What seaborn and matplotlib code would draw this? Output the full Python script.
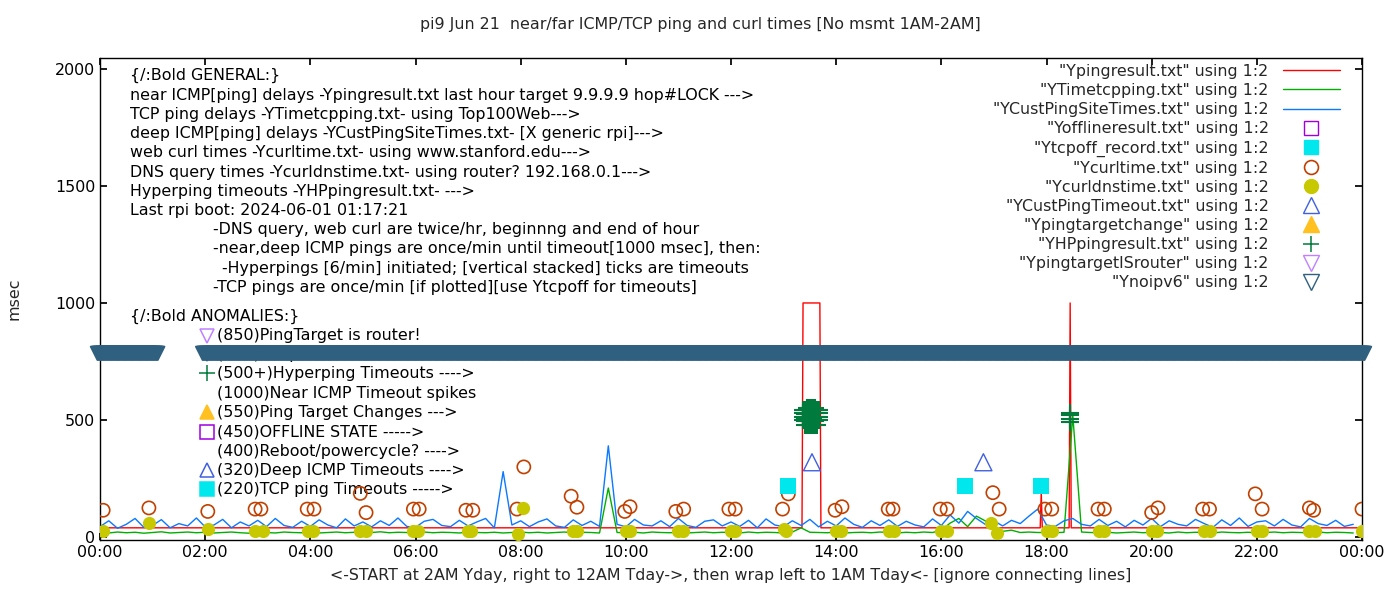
import numpy as np
import pandas as pd
import matplotlib
matplotlib.use("Agg")
import matplotlib.pyplot as plt
import seaborn as sns
from matplotlib.lines import Line2D

# ---- data (hours of day, msec) ----
t10 = np.arange(0, 24, 1 / 6)  # 10-minute samples

cust_ms = [
    45, 70, 38, 55, 80, 42, 50, 75, 40, 58, 48, 82,
    44, 52, 76, 40, 65, 48, 72, 45, 80, 50, 42, 68,
    46, 74, 52, 40, 78, 48, 65, 44, 70, 50, 82, 46,
    42, 68, 76, 50, 45, 72, 48, 65, 80, 40, 280, 52,
    70, 45, 65, 78, 48, 42, 74, 50, 68, 46, 390, 55,
    44, 76, 52, 48, 70, 45, 80, 50, 42, 68, 74, 48,
    65, 46, 72, 40, 78, 52, 45, 70, 50, 76, 44, 68,
    48, 82, 55, 42, 70, 50, 74, 46, 68, 52, 44, 78,
    50, 95, 60, 110, 80, 55, 70, 48, 72, 58, 90, 120,
    52, 46, 70, 80, 55, 48, 76, 50, 68, 44, 72, 52,
    80, 45, 70, 55, 48, 76, 58, 42, 74, 50, 82, 46,
    65, 70, 48, 76, 52, 44, 80, 58, 50, 72, 46, 55,
]
tcp_ms = [
    20, 18, 22, 19, 21, 17, 20, 23, 18, 20, 22, 19,
    21, 18, 20, 22, 19, 17, 21, 20, 18, 22, 20, 19,
    21, 18, 20, 22, 19, 21, 18, 20, 23, 19, 21, 20,
    18, 22, 19, 21, 20, 18, 22, 20, 19, 21, 18, 20,
    22, 19, 21, 18, 20, 22, 19, 21, 20, 18, 210, 20,
    19, 21, 18, 22, 20, 19, 21, 18, 20, 22, 19, 21,
    20, 18, 22, 19, 21, 20, 18, 22, 40, 21, 20, 19,
    22, 18, 20, 21, 19, 22, 20, 18, 21, 19, 22, 20,
    30, 60, 80, 45, 90, 70, 40, 25, 30, 20, 22, 20,
    20, 19, 21, 520, 22, 20, 19, 21, 18, 20, 22, 19,
    21, 20, 18, 22, 19, 21, 20, 18, 22, 20, 19, 21,
    18, 20, 22, 19, 21, 20, 18, 22, 19, 21, 20, 18,
]
ping_x = [0, 13.35, 13.37, 13.69, 13.71, 17.88, 17.9, 17.92, 18.43, 18.45, 18.47, 24]
ping_y = [40, 40, 1000, 1000, 40, 40, 190, 40, 40, 1000, 40, 40]

curl_x = [0.06, 0.93, 2.05, 2.95, 3.06, 3.94, 4.07, 4.95, 5.06, 5.96, 6.07, 6.96, 7.09,
          7.93, 8.06, 8.96, 9.07, 9.98, 10.08, 10.95, 11.1, 11.96, 12.08, 12.98, 13.09,
          13.98, 14.11, 14.99, 15.08, 15.98, 16.11, 16.98, 17.1, 17.97, 18.1, 18.98, 19.1,
          20.0, 20.12, 20.97, 21.1, 21.97, 22.1, 23.0, 23.08, 24.0]
curl_y = [115, 125, 110, 120, 120, 120, 120, 187, 105, 120, 120, 115, 115,
          120, 300, 175, 128, 110, 130, 110, 120, 120, 120, 120, 185,
          115, 130, 120, 120, 120, 120, 190, 120, 120, 120, 120, 120,
          105, 125, 120, 120, 185, 120, 125, 115, 120]
dns_x = [0.05, 0.93, 2.05, 2.95, 3.1, 3.95, 4.05, 4.95, 5.05, 5.95, 6.05, 7.0, 7.05,
         7.95, 8.05, 9.0, 9.08, 10.0, 10.08, 11.0, 11.08, 12.0, 12.08, 13.0, 13.05,
         14.0, 14.1, 15.0, 15.1, 16.0, 16.1, 16.95, 17.05, 18.0, 18.1, 19.0, 19.1,
         20.0, 20.1, 21.0, 21.1, 22.0, 22.1, 23.0, 23.1, 24.0]
dns_y = [25, 60, 35, 25, 25, 25, 25, 25, 25, 25, 25, 25, 25,
         15, 125, 25, 25, 25, 25, 25, 25, 25, 25, 35, 25,
         25, 25, 25, 25, 25, 25, 60, 18, 25, 25, 25, 25,
         25, 25, 25, 25, 25, 25, 25, 25, 25]
tcpoff_x = [13.08, 16.45, 17.9]
tcpoff_y = [220, 220, 220]
deep_to_x = [13.54, 16.8]
deep_to_y = [320, 320]
hp_x = [13.37, 13.37, 13.37, 13.37, 13.40, 13.40, 13.40, 13.40, 13.40,
        13.44, 13.44, 13.44, 13.44, 13.44, 13.48, 13.48, 13.48, 13.48, 13.48,
        13.52, 13.52, 13.52, 13.52, 13.52, 13.56, 13.56, 13.56, 13.56, 13.56,
        13.60, 13.60, 13.60, 13.60, 13.60, 13.64, 13.64, 13.64, 13.64, 13.64,
        13.68, 13.68, 13.68, 13.68, 18.45, 18.45, 18.45, 18.45]
hp_y = [500, 515, 530, 545, 480, 495, 510, 525, 545, 480, 495, 510, 530, 550,
        480, 495, 515, 530, 550, 480, 500, 515, 530, 550, 480, 495, 510, 530, 550,
        480, 495, 515, 530, 550, 480, 500, 515, 530, 545, 500, 515, 530, 545,
        490, 505, 520, 530]
noipv6_x = np.concatenate([np.arange(-0.05, 1.1, 1 / 60), np.arange(1.95, 24.06, 1 / 60)])
noipv6_y = np.full(len(noipv6_x), 785)

C_RED, C_GRN, C_BLU = "#ff0000", "#00b000", "#0a78ff"
C_OFF, C_CYAN, C_CURL, C_DNS = "#a000e0", "#00e8ee", "#c04000", "#c8c800"
C_DEEP, C_TGT, C_HP, C_RTR, C_V6 = "#4060e0", "#ffc020", "#007a3d", "#c080ff", "#306080"

sns.set_theme(style="ticks")
plt.rcParams["font.family"] = ["DejaVu Sans"]
fs = 11.4

fig = plt.figure(figsize=(14, 6), dpi=100)
ax = fig.add_axes([100 / 1400, 0.1, 1262 / 1400, 0.803])

sns.lineplot(x=ping_x, y=ping_y, ax=ax, color=C_RED, lw=1, sort=False, estimator=None)
sns.lineplot(x=t10, y=tcp_ms, ax=ax, color=C_GRN, lw=1, estimator=None)
sns.lineplot(x=t10, y=cust_ms, ax=ax, color=C_BLU, lw=1, estimator=None)

sns.scatterplot(x=curl_x, y=curl_y, ax=ax, marker="o", s=90, facecolors="none",
                edgecolor=C_CURL, linewidth=1.2, zorder=4)
sns.scatterplot(x=dns_x, y=dns_y, ax=ax, marker="o", s=90, color=C_DNS, linewidth=0, zorder=4)
sns.scatterplot(x=tcpoff_x, y=tcpoff_y, ax=ax, marker="s", s=140, color=C_CYAN, linewidth=0, zorder=4)
sns.scatterplot(x=deep_to_x, y=deep_to_y, ax=ax, marker="^", s=150, facecolors="none",
                edgecolor=C_DEEP, linewidth=1, zorder=4)
sns.scatterplot(x=hp_x, y=hp_y, ax=ax, marker="+", s=150, color=C_HP, linewidth=1.5, zorder=4)

# annotation text block
txt = [
    ("{/:Bold GENERAL:}", 0.57, 1970),
    ("near ICMP[ping] delays -Ypingresult.txt last hour target 9.9.9.9 hop#LOCK --->", 0.57, 1885),
    ("TCP ping delays -YTimetcpping.txt- using Top100Web--->", 0.57, 1804),
    ("deep ICMP[ping] delays -YCustPingSiteTimes.txt- [X generic rpi]--->", 0.57, 1723),
    ("web curl times -Ycurltime.txt- using www.stanford.edu--->", 0.57, 1642),
    ("DNS query times -YcurIdnstime.txt- using router? 192.168.0.1--->", 0.57, 1557),
    ("Hyperping timeouts -YHPpingresult.txt- --->", 0.57, 1475),
    ("Last rpi boot: 2024-06-01 01:17:21", 0.57, 1394),
    ("-DNS query, web curl are twice/hr, beginnng and end of hour", 2.15, 1313),
    ("-near,deep ICMP pings are once/min until timeout[1000 msec], then:", 2.15, 1232),
    ("-Hyperpings [6/min] initiated; [vertical stacked] ticks are timeouts", 2.32, 1147),
    ("-TCP pings are once/min [if plotted][use Ytcpoff for timeouts]", 2.15, 1066),
    ("{/:Bold ANOMALIES:}", 0.57, 942),
]
for s, x, y in txt:
    ax.text(x, y, s, fontsize=fs, va="center", ha="left", color="#000000")

anom = [
    ("(850)PingTarget is router!", 861, "v", C_RTR, False),
    ("(785)no ipv6 failures!", 780, "v", C_V6, False),
    ("(500+)Hyperping Timeouts ---->", 699, "+", C_HP, True),
    ("(1000)Near ICMP Timeout spikes", 614, None, None, None),
    ("(550)Ping Target Changes --->", 533, "^", C_TGT, True),
    ("(450)OFFLINE STATE ----->", 448, "s", C_OFF, False),
    ("(400)Reboot/powercycle? ---->", 367, None, None, None),
    ("(320)Deep ICMP Timeouts ---->", 286, "^", C_DEEP, False),
    ("(220)TCP ping Timeouts ----->", 205, "s", C_CYAN, True),
]
for s, y, m, c, filled in anom:
    ax.text(2.22, y, s, fontsize=fs, va="center", ha="left", color="#000000", zorder=2)
    if m:
        ax.plot([2.03], [y], marker=m, ms=10 if m != "+" else 11, color=c,
                mfc=c if filled else "none", mew=1.1, ls="none", zorder=3)

# Ynoipv6 band drawn over the text
sns.scatterplot(x=noipv6_x, y=noipv6_y, ax=ax, marker="v", s=95, facecolors="none",
                edgecolor=C_V6, linewidth=1.2, zorder=5, clip_on=False)

ax.set_xlim(0, 24)
ax.set_ylim(-12, 2045)
ax.set_xticks(range(0, 25, 2))
ax.set_xticklabels([f"{h % 24:02d}:00" for h in range(0, 25, 2)])
ax.set_yticks([0, 500, 1000, 1500, 2000])
ax.tick_params(direction="in", top=True, right=True, labelsize=fs, length=5, colors="#000000")
for sp in ax.spines.values():
    sp.set_color("black")
    sp.set_linewidth(1)
ax.set_ylabel("msec", fontsize=fs, labelpad=24)
ax.set_xlabel("<-START at 2AM Yday, right to 12AM Tday->, then wrap left to 1AM Tday<- [ignore connecting lines]",
              fontsize=fs, labelpad=6)
fig.text(0.5, 1 - 25 / 600, "pi9 Jun 21  near/far ICMP/TCP ping and curl times [No msmt 1AM-2AM]",
         ha="center", va="center", fontsize=fs)

handles = [
    Line2D([], [], color=C_RED, lw=1),
    Line2D([], [], color=C_GRN, lw=1),
    Line2D([], [], color=C_BLU, lw=1),
    Line2D([], [], marker="s", ls="none", mfc="none", mec=C_OFF, ms=10),
    Line2D([], [], marker="s", ls="none", color=C_CYAN, ms=10),
    Line2D([], [], marker="o", ls="none", mfc="none", mec=C_CURL, ms=10, mew=1.2),
    Line2D([], [], marker="o", ls="none", color=C_DNS, ms=10),
    Line2D([], [], marker="^", ls="none", mfc="none", mec=C_DEEP, ms=11),
    Line2D([], [], marker="^", ls="none", color=C_TGT, ms=11),
    Line2D([], [], marker="+", ls="none", color=C_HP, ms=11, mew=1.1),
    Line2D([], [], marker="v", ls="none", mfc="none", mec=C_RTR, ms=11),
    Line2D([], [], marker="v", ls="none", mfc="none", mec=C_V6, ms=11),
]
labels = ['"Ypingresult.txt" using 1:2', '"YTimetcpping.txt" using 1:2',
          '"YCustPingSiteTimes.txt" using 1:2', '"Yofflineresult.txt" using 1:2',
          '"Ytcpoff_record.txt" using 1:2', '"Ycurltime.txt" using 1:2',
          '"Ycurldnstime.txt" using 1:2', '"YCustPingTimeout.txt" using 1:2',
          '"Ypingtargetchange" using 1:2', '"YHPpingresult.txt" using 1:2',
          '"YpingtargetISrouter" using 1:2', '"Ynoipv6" using 1:2']
leg = ax.legend(handles, labels, loc="upper right", bbox_to_anchor=(0.99, 1.008),
                frameon=False, markerfirst=False, fontsize=fs, handlelength=3.6,
                labelspacing=0.26, handletextpad=0.9, borderaxespad=0.2)
for t in leg.get_texts():
    t.set_ha("right")
leg.set_zorder(6)

fig.savefig("out.png", dpi=100)
